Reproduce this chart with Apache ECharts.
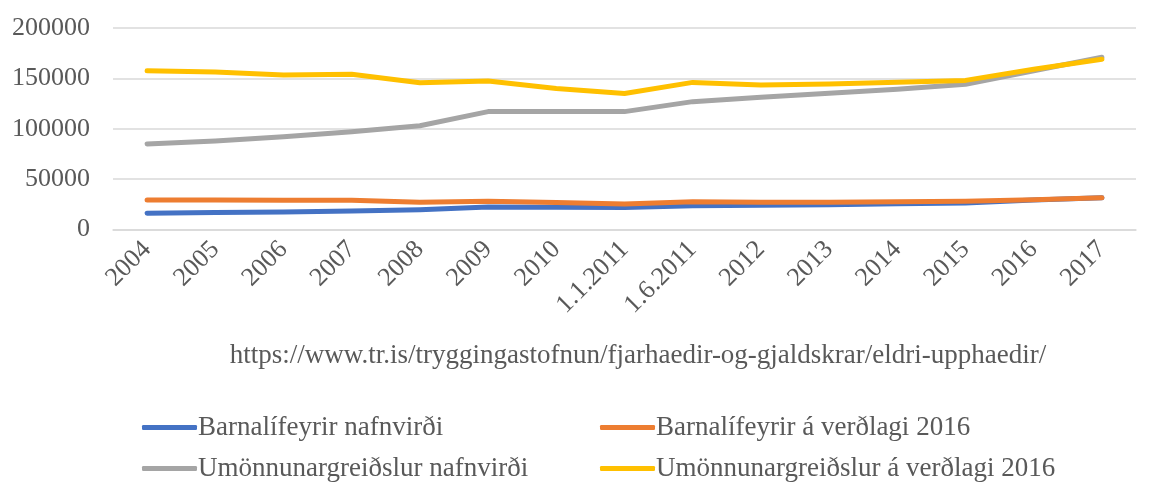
<!DOCTYPE html>
<html>
<head>
<meta charset="utf-8">
<script src="https://cdn.jsdelivr.net/npm/echarts@6/dist/echarts.min.js"></script>
<style>
html,body{margin:0;padding:0;background:#fff;}
#c{width:1153px;height:483px;}
</style>
</head>
<body>
<div id="c"></div>
<script>
const categories = ['2004','2005','2006','2007','2008','2009','2010','1.1.2011','1.6.2011','2012','2013','2014','2015','2016','2017'];
const barnNafn = [16100,16900,17300,18300,19600,22300,22000,21800,23500,24000,24500,25500,26300,29300,31600];
const barnVerd = [29300,29300,29100,29000,27000,28000,26800,25300,27600,27000,27000,27500,28000,29600,31600];
const umonNafn = [84900,87800,92100,97100,103000,117000,117000,117000,126900,131200,135200,139100,144100,157600,170900];
const umonVerd = [157600,156300,153300,154000,145700,147400,140000,135000,146000,143400,144400,146100,148000,159000,169000];
const yTicks = [0,50000,100000,150000,200000];
const seriesNames = ['Barnalífeyrir nafnvirði','Barnalífeyrir á verðlagi 2016','Umönnunargreiðslur nafnvirði','Umönnunargreiðslur á verðlagi 2016'];
const sourceText = 'https://www.tr.is/tryggingastofnun/fjarhaedir-og-gjaldskrar/eldri-upphaedir/';

const colors = ['#4472C4','#ED7D31','#A5A5A5','#FFC000'];
const font = 'Liberation Serif, Times New Roman, serif';
const values = [barnNafn, barnVerd, umonNafn, umonVerd];

const legendPos = [[142,414],[600,414],[142,455],[600,455]];

const chart = echarts.init(document.getElementById('c'));
chart.setOption({
  animation:false,
  color: colors,
  grid:{left:113,right:17,top:28,bottom:253.5,containLabel:false},
  xAxis:{
    type:'category', data:categories, boundaryGap:true,
    axisLine:{show:true,lineStyle:{color:'#D9D9D9',width:1.5}},
    axisTick:{show:false},
    axisLabel:{rotate:45,interval:0,color:'#595959',fontFamily:font,fontSize:26,margin:16}
  },
  yAxis:{
    type:'value', min:yTicks[0], max:yTicks[yTicks.length-1], interval:50000,
    axisLine:{show:false}, axisTick:{show:false},
    splitLine:{lineStyle:{color:'#D9D9D9',width:1.5}},
    axisLabel:{color:'#595959',fontFamily:font,fontSize:26,margin:23,formatter:v=>String(v)}
  },
  legend: seriesNames.map((n,i)=>({
    data:[n], left:legendPos[i][0], top:legendPos[i][1],
    icon:'roundRect', itemWidth:55, itemHeight:5, padding:0,
    textStyle:{color:'#595959',fontFamily:font,fontSize:27,padding:[0,0,0,-4]}
  })),
  graphic:[{type:'text',x:638,y:356,
    style:{text:sourceText,fill:'#595959',font:'27px '+font,textAlign:'center',textVerticalAlign:'middle'}}],
  series: seriesNames.map((n,i)=>({
    name:n, type:'line', data:values[i], symbol:'none',
    lineStyle:{width:5,color:colors[i],cap:'round',join:'round'},
    itemStyle:{color:colors[i]}
  }))
});
</script>
</body>
</html>
